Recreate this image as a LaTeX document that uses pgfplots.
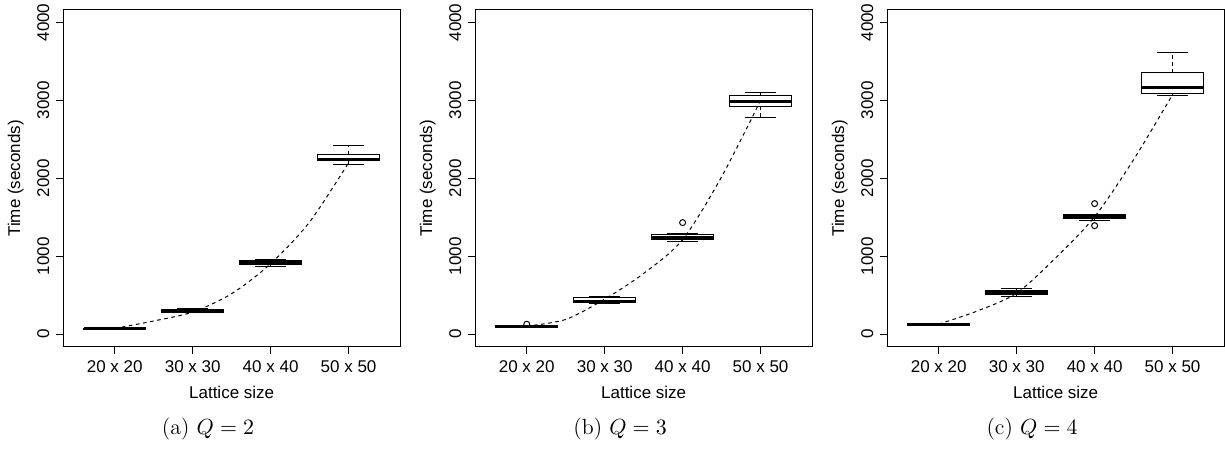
\documentclass[border=0pt]{standalone}
\usepackage{fontspec}
\usepackage{pgfplots}
\pgfplotsset{compat=1.18}
\newfontfamily\rsans{Liberation Sans}

% R-style boxplot panel
\pgfplotsset{
  rpanel/.style={
    scale only axis, width=168.35pt, height=168.35pt,
    xmin=0.34, xmax=4.66, ymin=-160, ymax=4160,
    xtick={1,2,3,4}, xticklabels={20 x 20,30 x 30,40 x 40,50 x 50},
    ytick={0,1000,2000,3000,4000}, yticklabels={0,1000,2000,3000,4000},
    xtick pos=left, ytick pos=left,
    tick align=outside, major tick length=3.5pt,
    axis line style={line width=0.5pt},
    every tick/.style={black, line width=0.5pt},
    tick label style={font=\rsans\fontsize{8.5}{10}\selectfont},
    yticklabel style={rotate=90, anchor=south},
    label style={font=\rsans\fontsize{8.5}{10}\selectfont},
    xlabel={Lattice size}, ylabel={Time (seconds)},
    xlabel style={at={(axis description cs:0.5,-0.136)}, anchor=center},
    ylabel style={at={(axis description cs:-0.141,0.5)}, anchor=center},
    clip=false,
  },
  edge/.style={black, line width=0.5pt, solid, mark=none},
  whisk/.style={edge, dash pattern=on 1.8pt off 1.6pt},
  outl/.style={black, only marks, mark=o, mark size=1.5pt,
    mark options={solid, line width=0.5pt}},
  fitline/.style={black, line width=0.5pt, dash pattern=on 1.8pt off 1.8pt,
    smooth, mark=none},
}

% box at position #1: lower whisker, lower quartile, median, upper quartile, upper whisker
\newcommand{\rbox}[6]{%
  \pgfmathsetmacro\rbL{#1-0.4}\pgfmathsetmacro\rbR{#1+0.4}%
  \pgfmathsetmacro\rsL{#1-0.2}\pgfmathsetmacro\rsR{#1+0.2}%
  \addplot[whisk] coordinates {(#1,#2) (#1,#3)};
  \addplot[whisk] coordinates {(#1,#5) (#1,#6)};
  \addplot[edge] coordinates {(\rsL,#2) (\rsR,#2)};
  \addplot[edge] coordinates {(\rsL,#6) (\rsR,#6)};
  \addplot[edge, fill=white] coordinates {(\rbL,#3) (\rbR,#3) (\rbR,#5) (\rbL,#5)} --cycle;
  \addplot[edge, line width=1.5pt] coordinates {(\rbL,#4) (\rbR,#4)};
}
\newcommand{\subcap}[1]{%
  \node[anchor=base, font=\fontsize{11}{13}\selectfont]
    at (rel axis cs:0.43,-0.262) {#1};}

\begin{document}
\begin{tikzpicture}
\path[use as bounding box] (0pt,0pt) rectangle (612.5pt,224.5pt);

\begin{axis}[rpanel, at={(31.65pt,51.15pt)}, anchor=south west]
\rbox{1}{60}{66}{72}{79}{86}
\rbox{2}{274}{280}{296}{316}{334}
\rbox{3}{874}{900}{921}{951}{964}
\rbox{4}{2176}{2224}{2240}{2310}{2420}
\addplot[fitline] coordinates {
  (1,75) (1.5,170) (2,285) (2.5,520) (3,905) (3.5,1440) (4,2200)
};
\subcap{(a) $Q=2$}
\end{axis}

\begin{axis}[rpanel, at={(237.65pt,51.15pt)}, anchor=south west]
\rbox{1}{82}{88}{98}{110}{118}
\rbox{2}{394}{402}{424}{465}{482}
\rbox{3}{1191}{1210}{1238}{1281}{1294}
\rbox{4}{2786}{2922}{2992}{3060}{3106}
\addplot[outl] coordinates {(1,128) (3,1432)};
\addplot[fitline] coordinates {
  (1,105) (1.5,190) (2,450) (2.5,780) (3,1215) (3.5,2020) (4,3000)
};
\subcap{(b) $Q=3$}
\end{axis}

\begin{axis}[rpanel, at={(443.65pt,51.15pt)}, anchor=south west]
\rbox{1}{112}{117}{127}{136}{140}
\rbox{2}{485}{508}{529}{564}{587}
\rbox{3}{1465}{1484}{1508}{1538}{1540}
\rbox{4}{3068}{3094}{3160}{3360}{3616}
\addplot[outl] coordinates {(3,1676) (3,1393)};
\addplot[fitline] coordinates {
  (1,130) (1.5,300) (2,528) (2.5,980) (3,1508) (3.5,2240) (4,3075)
};
\subcap{(c) $Q=4$}
\end{axis}
\end{tikzpicture}
\end{document}
